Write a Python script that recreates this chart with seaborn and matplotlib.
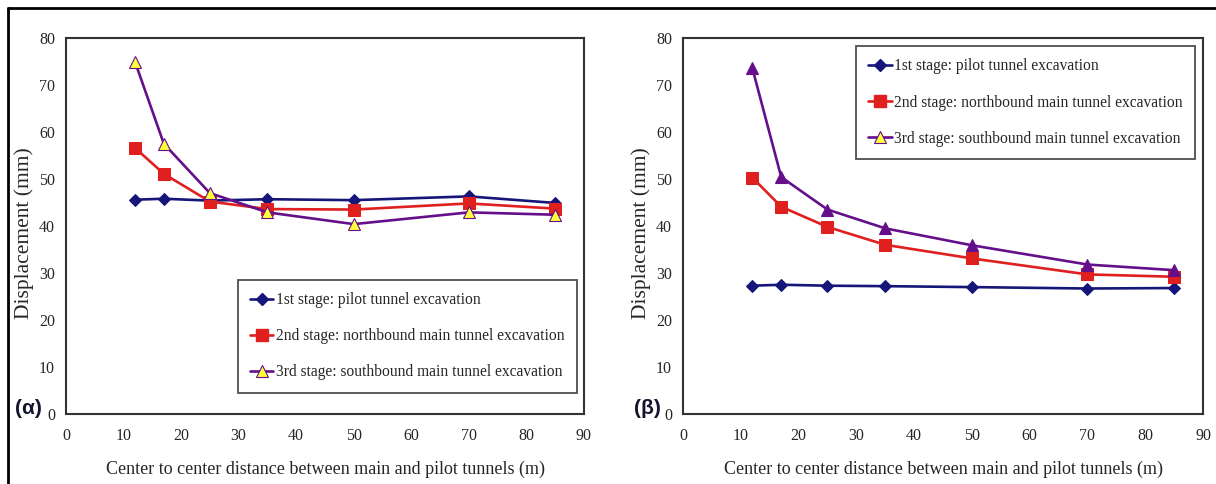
# -*- coding: utf-8 -*-
# displacement vs. center-to-center distance, two panels (alpha / beta)
import numpy as np
import pandas as pd
import matplotlib
matplotlib.use("Agg")
import matplotlib.pyplot as plt
from matplotlib.lines import Line2D
import seaborn as sns

# data
distance = [12, 17, 25, 35, 50, 70, 85]

a_stage1 = [45.6, 45.8, 45.4, 45.7, 45.5, 46.3, 44.9]
a_stage2 = [56.6, 51.1, 45.2, 43.6, 43.5, 44.8, 43.7]
a_stage3 = [74.9, 57.5, 47.0, 42.9, 40.4, 42.9, 42.4]

b_stage1 = [27.3, 27.5, 27.3, 27.2, 27.0, 26.7, 26.8]
b_stage2 = [50.3, 44.1, 39.8, 36.0, 33.1, 29.7, 29.2]
b_stage3 = [73.6, 50.4, 43.5, 39.5, 35.9, 31.8, 30.6]

stage_names = [
    "1st stage: pilot tunnel excavation",
    "2nd stage: northbound main tunnel excavation",
    "3rd stage: southbound main tunnel excavation",
]
x_ticks = [0, 10, 20, 30, 40, 50, 60, 70, 80, 90]
y_ticks = [0, 10, 20, 30, 40, 50, 60, 70, 80]
panel_tags = ["(α)", "(β)"]

NAVY = "#16167a"
RED = "#e01f1f"
PURPLE = "#650f8a"
YELLOW = "#ffff3a"

sns.set_style("white")
plt.rcParams["font.family"] = ["Liberation Serif", "DejaVu Serif"]

fig = plt.figure(figsize=(12.16, 4.84), dpi=100)
ax_a = fig.add_axes([66 / 1216, 70 / 484, 518 / 1216, 376 / 484])
ax_b = fig.add_axes([683 / 1216, 70 / 484, 520 / 1216, 376 / 484])


def draw_panel(ax, s1, s2, s3, tri_face):
    df = pd.DataFrame({"x": distance, "s1": s1, "s2": s2, "s3": s3})
    sns.lineplot(data=df, x="x", y="s1", ax=ax, color=NAVY, lw=1.9,
                 marker="D", markersize=6.5, markerfacecolor=NAVY,
                 markeredgecolor=NAVY)
    sns.lineplot(data=df, x="x", y="s2", ax=ax, color=RED, lw=1.9,
                 marker="s", markersize=8.5, markerfacecolor=RED,
                 markeredgecolor=RED)
    sns.lineplot(data=df, x="x", y="s3", ax=ax, color=PURPLE, lw=1.9,
                 marker="^", markersize=9, markerfacecolor=tri_face,
                 markeredgecolor=PURPLE, markeredgewidth=0.8)
    ax.set_xlim(0, 90)
    ax.set_ylim(0, 80)
    ax.set_xticks(x_ticks)
    ax.set_yticks(y_ticks)
    ax.tick_params(direction="in", length=4, width=1, color="#333333",
                   labelsize=11.5)
    ax.tick_params(axis="x", pad=10)
    ax.tick_params(axis="y", pad=8)
    for sp in ax.spines.values():
        sp.set_color("#333333")
        sp.set_linewidth(1.5)
    ax.set_xlabel("Center to center distance between main and pilot tunnels (m)",
                  fontsize=13, labelpad=12)
    ax.set_ylabel("Displacement (mm)", fontsize=15.5)
    ax.yaxis.set_label_coords(-0.062, 0.48)


draw_panel(ax_a, a_stage1, a_stage2, a_stage3, YELLOW)
draw_panel(ax_b, b_stage1, b_stage2, b_stage3, PURPLE)

handles = [
    Line2D([], [], color=NAVY, lw=1.9, marker="D", markersize=6.5,
           markerfacecolor=NAVY, markeredgecolor=NAVY),
    Line2D([], [], color=RED, lw=1.9, marker="s", markersize=8.5,
           markerfacecolor=RED, markeredgecolor=RED),
    Line2D([], [], color=PURPLE, lw=1.9, marker="^", markersize=9,
           markerfacecolor=YELLOW, markeredgecolor=PURPLE, markeredgewidth=0.8),
]
leg_kw = dict(fontsize=11.2, frameon=True, fancybox=False, handlelength=1.5,
              handletextpad=0.15, labelspacing=1.3, borderpad=0.8,
              borderaxespad=0)
leg_a = ax_a.legend(handles, stage_names, loc="lower right",
                    bbox_to_anchor=(0.986, 0.056), **leg_kw)
leg_b = ax_b.legend(handles, stage_names, loc="upper right",
                    bbox_to_anchor=(0.985, 0.979), **leg_kw)
for leg in (leg_a, leg_b):
    fr = leg.get_frame()
    fr.set_edgecolor("#222222")
    fr.set_linewidth(1.3)

# panel tags
fig.text(15 / 1216, 1 - 408 / 484, panel_tags[0], fontsize=15, fontweight="bold",
         family=["Liberation Sans", "DejaVu Sans"], color="#151530", va="center")
fig.text(634 / 1216, 1 - 408 / 484, panel_tags[1], fontsize=15, fontweight="bold",
         family=["Liberation Sans", "DejaVu Sans"], color="#151530", va="center")

# outer frame (top and left only)
fig.add_artist(Line2D([8 / 1216, 1], [1 - 8 / 484, 1 - 8 / 484],
                      transform=fig.transFigure, color="black", lw=2))
fig.add_artist(Line2D([8 / 1216, 8 / 1216], [0, 1 - 8 / 484],
                      transform=fig.transFigure, color="black", lw=2))

fig.savefig("out.png", dpi=100)
